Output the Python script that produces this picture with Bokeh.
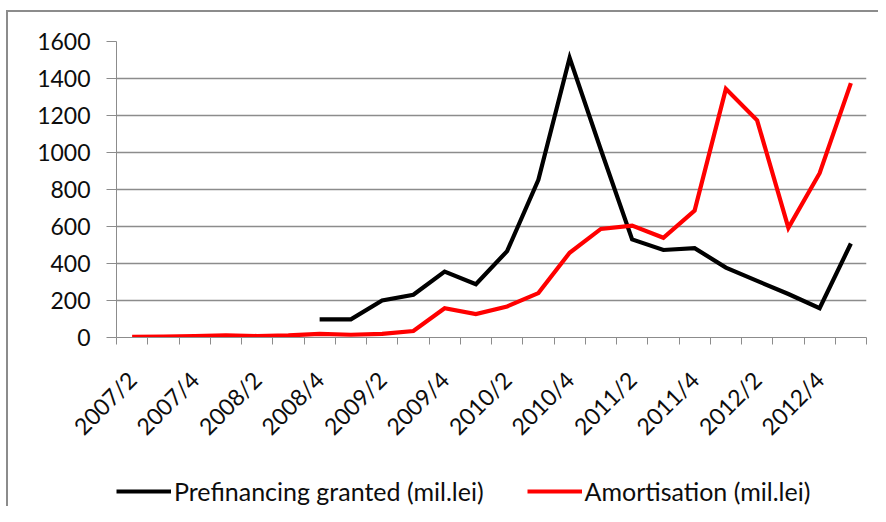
import math
from bokeh.plotting import figure
from bokeh.layouts import column
from bokeh.models import Legend, LegendItem, FixedTicker, SingleIntervalTicker, Range1d, ColumnDataSource
from bokeh.embed import file_html
from bokeh.resources import INLINE

quarters = ["2007/2", "2007/3", "2007/4", "2008/1", "2008/2", "2008/3", "2008/4",
            "2009/1", "2009/2", "2009/3", "2009/4", "2010/1", "2010/2", "2010/3",
            "2010/4", "2011/1", "2011/2", "2011/3", "2011/4", "2012/1", "2012/2",
            "2012/3", "2012/4", "2013/1"]

prefinancing = [None, None, None, None, None, None, 98, 98, 200, 231, 356, 288,
                467, 852, 1512, 1015, 530, 473, 483, 378, 306, 235, 158, 508]

amortisation = [4, 5, 8, 12, 8, 12, 20, 15, 20, 35, 158, 127, 168, 240, 458, 587,
                605, 539, 686, 1344, 1174, 593, 888, 1375]

series_names = ["Prefinancing granted (mil.lei)", "Amortisation (mil.lei)"]
series_colors = ["#000000", "#ff0000"]
series_fields = ["pre", "amo"]

FONT = "Lato"
GRAY = "#8c8c8c"
TXT = "#0d0d0d"

xpos = list(range(1, len(quarters) + 1))
src = ColumnDataSource(dict(
    x=xpos,
    pre=[float("nan") if v is None else v for v in prefinancing],
    amo=amortisation,
))

p = figure(width=870, height=440, output_backend="svg", toolbar_location=None,
           x_range=Range1d(0.5, len(quarters) + 0.5), y_range=Range1d(0, 1600),
           min_border_left=108, min_border_right=12, min_border_top=29,
           min_border_bottom=113, background_fill_color="white",
           border_fill_color="white", outline_line_color=None)

for f, c in zip(series_fields, series_colors):
    p.line("x", f, source=src, line_color=c, line_width=4.2, line_join="miter")

# x axis
p.xaxis.ticker = FixedTicker(ticks=xpos[::2],
                             minor_ticks=[v - 0.5 for v in xpos] + [xpos[-1] + 0.5])
p.xaxis.major_label_overrides = {v: q for v, q in zip(xpos, quarters)}
p.xaxis.major_label_orientation = math.pi / 4
p.xaxis.major_tick_out = 0
p.xaxis.major_tick_in = 0
p.xaxis.minor_tick_out = 7
p.xaxis.minor_tick_in = 0
p.xaxis.minor_tick_line_color = GRAY
p.xaxis.axis_line_color = GRAY
p.xaxis.major_label_text_font = FONT
p.xaxis.major_label_text_font_size = "23px"
p.xaxis.major_label_text_color = TXT
p.xaxis.major_label_standoff = 31

# y axis
p.yaxis.ticker = SingleIntervalTicker(interval=200, num_minor_ticks=0)
p.yaxis.major_tick_out = 10
p.yaxis.major_tick_in = 0
p.yaxis.minor_tick_line_color = None
p.yaxis.major_tick_line_color = GRAY
p.yaxis.axis_line_color = GRAY
p.yaxis.major_label_text_font = FONT
p.yaxis.major_label_text_font_size = "23px"
p.yaxis.major_label_text_color = TXT
p.yaxis.major_label_standoff = 16

p.xgrid.grid_line_color = None
p.ygrid.grid_line_color = GRAY
p.ygrid.grid_line_width = 1.3

# legend strip below the chart (its series lie outside its tiny ranges)
lp = figure(width=870, height=54, output_backend="svg", toolbar_location=None,
            x_range=Range1d(-2, -1), y_range=Range1d(-2, -1),
            min_border_left=108, min_border_right=12, min_border_top=0,
            min_border_bottom=0, outline_line_color=None,
            background_fill_color="white", border_fill_color="white")
lp.axis.visible = False
lp.grid.grid_line_color = None
proxies = [lp.line("x", f, source=src, line_color=c, line_width=4.2)
           for f, c in zip(series_fields, series_colors)]

legend = Legend(items=[LegendItem(label=n, renderers=[r])
                       for n, r in zip(series_names, proxies)],
                orientation="horizontal", location=(0, 0),
                glyph_width=55, glyph_height=28, label_standoff=3, spacing=43,
                padding=0, margin=0, border_line_color=None,
                background_fill_alpha=0, label_text_font=FONT,
                label_text_font_size="25px", label_text_color=TXT)
lp.add_layout(legend, "center")

layout = column(p, lp, spacing=0)
layout.styles = {"border-left": "2px solid #8c8c8c", "border-top": "2px solid #8c8c8c",
                 "margin-top": "10px", "margin-left": "6px"}

open("out.html", "w").write(file_html(layout, INLINE))
